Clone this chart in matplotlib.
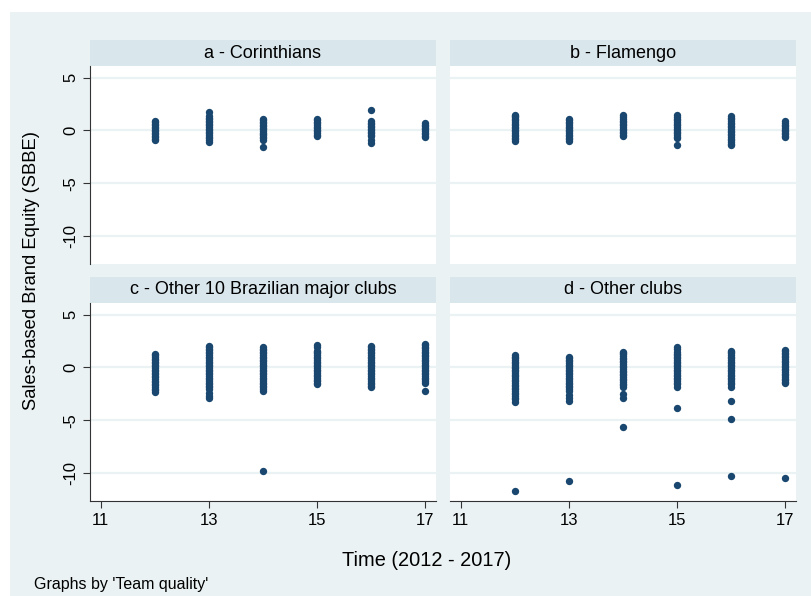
import matplotlib
matplotlib.use("Agg")
import matplotlib.pyplot as plt
from matplotlib.patches import Rectangle

plt.rcParams['font.family'] = ['Liberation Sans', 'DejaVu Sans']
plt.rcParams['axes.unicode_minus'] = False

# data: sales-based brand equity per club group and year (12 = 2012 ... 17 = 2017)
years = [12, 13, 14, 15, 16, 17]
titles = ["a - Corinthians", "b - Flamengo",
          "c - Other 10 Brazilian major clubs", "d - Other clubs"]

corinthians = [
    [-0.92, -0.78, -0.61, -0.5, -0.34, -0.21, -0.05, 0.08, 0.22, 0.37, 0.49, 0.63, 0.78, 0.9],
    [-1.05, -0.9, -0.74, -0.6, -0.41, -0.28, -0.12, 0.03, 0.18, 0.31, 0.47, 0.62, 0.75, 0.9,
     1.06, 1.2, 1.38, 1.75],
    [-1.55, -0.9, -0.76, -0.63, -0.48, -0.33, -0.2, -0.04, 0.1, 0.26, 0.4, 0.55, 0.7, 0.84,
     0.97, 1.1],
    [-0.57, -0.42, -0.27, -0.1, 0.04, 0.19, 0.35, 0.5, 0.66, 0.8, 0.95, 1.1],
    [-1.2, -0.9, -0.57, -0.44, -0.28, -0.13, 0.02, 0.17, 0.31, 0.46, 0.6, 0.74, 0.86, 1.9],
    [-0.63, -0.5, -0.35, -0.2, -0.06, 0.1, 0.24, 0.38, 0.52, 0.7],
]
flamengo = [
    [-1.0, -0.86, -0.71, -0.55, -0.4, -0.26, -0.1, 0.05, 0.2, 0.34, 0.5, 0.65, 0.8, 0.96,
     1.1, 1.25, 1.38, 1.5],
    [-1.0, -0.85, -0.7, -0.54, -0.39, -0.24, -0.08, 0.06, 0.21, 0.37, 0.52, 0.67, 0.82,
     0.96, 1.1],
    [-0.57, -0.43, -0.28, -0.12, 0.02, 0.17, 0.33, 0.48, 0.63, 0.79, 0.93, 1.08, 1.24, 1.43],
    [-1.37, -0.73, -0.58, -0.42, -0.28, -0.12, 0.03, 0.18, 0.33, 0.5, 0.64, 0.8, 0.95,
     1.1, 1.27, 1.43],
    [-1.4, -1.25, -1.1, -0.94, -0.79, -0.63, -0.48, -0.33, -0.18, -0.02, 0.13, 0.28, 0.44,
     0.59, 0.74, 0.9, 1.05, 1.2, 1.33],
    [-0.67, -0.52, -0.37, -0.22, -0.07, 0.08, 0.23, 0.38, 0.53, 0.7, 0.86],
]
major_clubs = [
    [-2.29, -2.15, -2.0, -1.86, -1.7, -1.55, -1.41, -1.26, -1.1, -0.95, -0.8, -0.66, -0.51,
     -0.36, -0.2, -0.06, 0.09, 0.24, 0.4, 0.55, 0.69, 0.84, 0.99, 1.14, 1.27],
    [-2.9, -2.7, -2.4, -2.06, -1.9, -1.75, -1.6, -1.44, -1.29, -1.13, -0.98, -0.83, -0.67,
     -0.52, -0.37, -0.21, -0.06, 0.1, 0.25, 0.4, 0.56, 0.71, 0.87, 1.02, 1.18, 1.33, 1.48,
     1.63, 1.79, 1.93, 2.06],
    [-9.77, -2.2, -2.05, -1.9, -1.74, -1.59, -1.43, -1.28, -1.12, -0.97, -0.82, -0.66,
     -0.51, -0.35, -0.2, -0.05, 0.11, 0.26, 0.42, 0.57, 0.72, 0.88, 1.03, 1.19, 1.34, 1.5,
     1.65, 1.78, 1.9],
    [-1.6, -1.45, -1.3, -1.15, -0.99, -0.84, -0.68, -0.53, -0.38, -0.22, -0.07, 0.09, 0.24,
     0.4, 0.55, 0.7, 0.86, 1.01, 1.17, 1.32, 1.47, 1.6, 1.97, 2.16],
    [-1.9, -1.75, -1.6, -1.44, -1.29, -1.13, -0.98, -0.83, -0.67, -0.52, -0.36, -0.21,
     -0.06, 0.1, 0.25, 0.41, 0.56, 0.71, 0.87, 1.02, 1.18, 1.33, 1.48, 1.64, 1.79, 1.93, 2.06],
    [-2.22, -1.43, -1.28, -1.12, -0.97, -0.81, -0.66, -0.51, -0.35, -0.2, -0.04, 0.11,
     0.27, 0.42, 0.57, 0.73, 0.88, 1.04, 1.19, 1.35, 1.5, 1.65, 1.8, 1.95, 2.08, 2.2],
]
other_clubs = [
    [-11.75, -3.24, -3.0, -2.85, -2.7, -2.54, -2.39, -2.23, -2.08, -1.93, -1.77, -1.62,
     -1.46, -1.31, -1.16, -1.0, -0.85, -0.69, -0.54, -0.38, -0.23, -0.08, 0.08, 0.23, 0.39,
     0.54, 0.7, 0.85, 1.0, 1.2],
    [-10.76, -3.2, -2.9, -2.6, -2.2, -2.05, -1.89, -1.74, -1.58, -1.43, -1.28, -1.12,
     -0.97, -0.81, -0.66, -0.51, -0.35, -0.2, -0.04, 0.11, 0.27, 0.42, 0.57, 0.73, 0.88, 1.0],
    [-5.6, -2.86, -2.54, -1.84, -1.69, -1.53, -1.38, -1.22, -1.07, -0.92, -0.76, -0.61,
     -0.45, -0.3, -0.15, 0.0, 0.16, 0.31, 0.47, 0.62, 0.77, 0.93, 1.08, 1.24, 1.38, 1.5],
    [-11.1, -3.8, -1.9, -1.6, -1.45, -1.29, -1.14, -0.98, -0.83, -0.68, -0.52, -0.37,
     -0.21, -0.06, 0.09, 0.25, 0.4, 0.56, 0.71, 0.86, 1.02, 1.17, 1.3, 1.43, 1.75, 1.97],
    [-10.25, -4.86, -3.17, -1.9, -1.6, -1.45, -1.29, -1.14, -0.98, -0.83, -0.68, -0.52,
     -0.37, -0.21, -0.06, 0.09, 0.25, 0.4, 0.56, 0.71, 0.86, 1.02, 1.17, 1.32, 1.46, 1.6],
    [-10.48, -1.52, -1.37, -1.21, -1.06, -0.9, -0.75, -0.6, -0.44, -0.29, -0.13, 0.02,
     0.18, 0.33, 0.48, 0.64, 0.79, 0.95, 1.1, 1.25, 1.4, 1.53, 1.65],
]
groups = [corinthians, flamengo, major_clubs, other_clubs]

xticks = [11, 13, 15, 17]
yticks = [5, 0, -5, -10]

BG = "#eaf2f3"
STRIP = "#d9e6eb"
NAVY = "#1a476f"
W, H = 811, 596

fig = plt.figure(figsize=(W / 100, H / 100), dpi=100)
fig.patch.set_facecolor("white")
fig.patches.append(Rectangle((10 / W, 0), 1, (H - 12) / H, transform=fig.transFigure,
                             facecolor=BG, edgecolor="none", zorder=-10))


def px_box(x0, y0, x1, y1):
    # pixel box (top-left origin) -> figure fraction rect
    return [x0 / W, 1 - y1 / H, (x1 - x0) / W, (y1 - y0) / H]


# panel positions in pixels: (left, right), (strip top, plot top, plot bottom)
cols = [(90, 436), (450, 796)]
rows = [(40, 66, 264), (277, 303, 501)]

for i, data in enumerate(groups):
    r, c = divmod(i, 2)
    x0, x1 = cols[c]
    st, pt, pb = rows[r]

    strip = fig.add_axes(px_box(x0, st, x1, pt))
    strip.set_facecolor(STRIP)
    strip.set_xticks([])
    strip.set_yticks([])
    for s in strip.spines.values():
        s.set_visible(False)
    strip.text(0.5, 0.5, titles[i], ha="center", va="center", fontsize=13,
               transform=strip.transAxes)

    ax = fig.add_axes(px_box(x0, pt, x1, pb))
    ax.set_facecolor("white")
    for yr, vals in zip(years, data):
        ax.scatter([yr] * len(vals), vals, s=28, color=NAVY, linewidths=0, zorder=3)
    ax.set_xlim(10.8, 17.2)
    ax.set_ylim(-12.65, 6.1)
    ax.set_xticks(xticks)
    ax.set_yticks(yticks)
    ax.yaxis.grid(True, color=BG, linewidth=1.6)
    ax.set_axisbelow(True)
    for s in ["top", "right"]:
        ax.spines[s].set_visible(False)
    ax.spines["left"].set_color("#333333")
    ax.spines["bottom"].set_color("#333333")
    ax.tick_params(direction="out", length=5, width=0.8, color="#333333", labelsize=12)
    for lab in ax.get_yticklabels():
        lab.set_rotation(90)
        lab.set_va("center")
    if c == 1:
        ax.spines["left"].set_visible(False)
        ax.tick_params(axis="y", left=False, labelleft=False)
    if r == 0:
        ax.spines["bottom"].set_visible(False)
        ax.tick_params(axis="x", bottom=False, labelbottom=False)

fig.text(32 / W, 1 - 271 / H, "Sales-based Brand Equity (SBBE)", rotation=90,
         ha="center", va="center", fontsize=13.2)
fig.text(427 / W, 1 - 560 / H, "Time (2012 - 2017)", ha="center", va="center", fontsize=14.4)
fig.text(34 / W, 1 - 585 / H, "Graphs by 'Team quality'", ha="left", va="center",
         fontsize=11.5)

fig.savefig("out.png", dpi=100)
